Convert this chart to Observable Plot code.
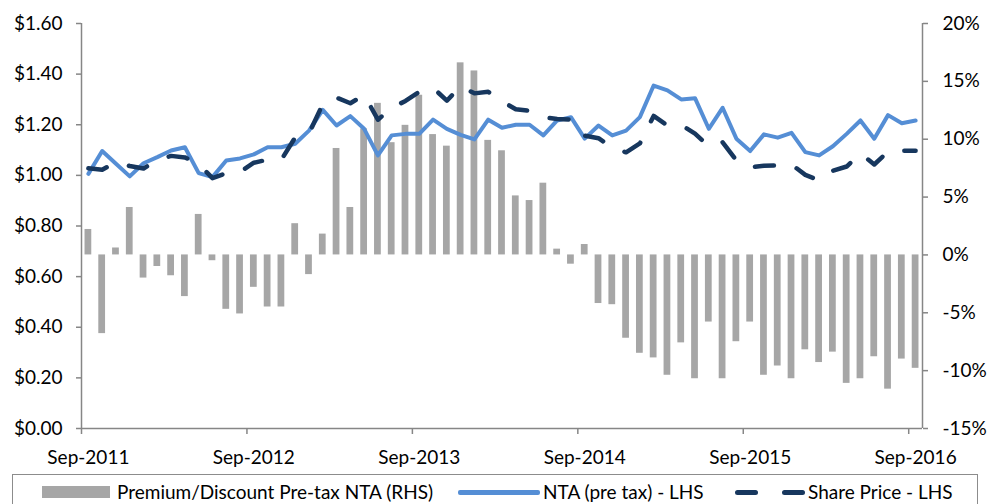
<!DOCTYPE html>
<html>
<head>
<meta charset="utf-8">
<script src="https://cdn.jsdelivr.net/npm/d3@7"></script>
<script src="https://cdn.jsdelivr.net/npm/@observablehq/plot@0.6"></script>
<style>
  body { margin: 0; background: #fff; font-family: Lato, "Open Sans", sans-serif; }
  #wrap { position: relative; width: 987px; height: 504px; overflow: hidden; background: #fff; }
  #chart { position: absolute; left: 0; top: 0; }
  #legend { position: absolute; left: 12px; top: 474px; width: 966px; height: 44px; border: 1.5px solid #8c8c8c; box-sizing: border-box; }
  .lg { position: absolute; font-size: 19px; font-weight: 400; color: #000; line-height: 1; white-space: nowrap; }
  .sw { position: absolute; }
</style>
</head>
<body>
<div id="wrap">
  <div id="chart"></div>
  <div id="legend"></div>
</div>
<script>
// Monthly categories, Sep-2011 .. Sep-2016
const months = [
  "Sep-2011","Oct-2011","Nov-2011","Dec-2011","Jan-2012","Feb-2012","Mar-2012","Apr-2012","May-2012","Jun-2012","Jul-2012","Aug-2012",
  "Sep-2012","Oct-2012","Nov-2012","Dec-2012","Jan-2013","Feb-2013","Mar-2013","Apr-2013","May-2013","Jun-2013","Jul-2013","Aug-2013",
  "Sep-2013","Oct-2013","Nov-2013","Dec-2013","Jan-2014","Feb-2014","Mar-2014","Apr-2014","May-2014","Jun-2014","Jul-2014","Aug-2014",
  "Sep-2014","Oct-2014","Nov-2014","Dec-2014","Jan-2015","Feb-2015","Mar-2015","Apr-2015","May-2015","Jun-2015","Jul-2015","Aug-2015",
  "Sep-2015","Oct-2015","Nov-2015","Dec-2015","Jan-2016","Feb-2016","Mar-2016","Apr-2016","May-2016","Jun-2016","Jul-2016","Aug-2016",
  "Sep-2016"
];

// Premium/Discount to pre-tax NTA, % (RHS)
const premium = [
  2.2, -6.8, 0.6, 4.1, -2.0, -1.0, -1.8, -3.6, 3.5, -0.5, -4.7, -5.1,
  -2.8, -4.5, -4.5, 2.7, -1.7, 1.8, 9.2, 4.1, 10.9, 13.1, 9.7, 11.2,
  13.8, 10.4, 9.4, 16.6, 15.9, 9.9, 9.0, 5.1, 4.7, 6.2, 0.5, -0.8,
  0.9, -4.2, -4.3, -7.2, -8.5, -8.9, -10.4, -7.6, -10.7, -5.8, -10.7, -7.5,
  -5.8, -10.4, -9.6, -10.7, -8.2, -9.3, -8.4, -11.1, -10.7, -8.8, -11.6, -9.0,
  -9.8
];

// NTA (pre tax), $ (LHS)
const nta = [
  1.006, 1.096, 1.046, 0.996, 1.048, 1.072, 1.098, 1.111, 1.009, 0.993, 1.059, 1.067,
  1.083, 1.111, 1.111, 1.125, 1.177, 1.259, 1.197, 1.234, 1.184, 1.079, 1.158, 1.164,
  1.164, 1.220, 1.184, 1.160, 1.142, 1.220, 1.188, 1.200, 1.200, 1.158, 1.217, 1.230,
  1.145, 1.197, 1.158, 1.177, 1.230, 1.355, 1.336, 1.300, 1.305, 1.184, 1.267, 1.145,
  1.096, 1.162, 1.149, 1.168, 1.092, 1.079, 1.115, 1.164, 1.217, 1.145, 1.238, 1.206,
  1.217
];

// Share price, $ (LHS)
const share = [
  1.028, 1.022, 1.052, 1.037, 1.027, 1.061, 1.077, 1.071, 1.045, 0.989, 1.009, 1.013,
  1.050, 1.062, 1.062, 1.150, 1.165, 1.282, 1.307, 1.285, 1.318, 1.220, 1.267, 1.294,
  1.330, 1.346, 1.295, 1.352, 1.324, 1.330, 1.293, 1.261, 1.255, 1.230, 1.223, 1.220,
  1.157, 1.147, 1.110, 1.091, 1.126, 1.235, 1.197, 1.199, 1.165, 1.115, 1.131, 1.059,
  1.032, 1.038, 1.039, 1.043, 1.002, 0.980, 1.018, 1.035, 1.087, 1.043, 1.094, 1.097,
  1.097
];

const xTickLabels = ["Sep-2011","Sep-2012","Sep-2013","Sep-2014","Sep-2015","Sep-2016"];
const leftTicks = [0, 0.2, 0.4, 0.6, 0.8, 1.0, 1.2, 1.4, 1.6];
const rightTicks = [-15, -10, -5, 0, 5, 10, 15, 20];

const legendLabels = ["Premium/Discount Pre-tax NTA (RHS)", "NTA (pre tax) - LHS", "Share Price - LHS"];

const colBar = "#A6A6A6", colNta = "#558ED5", colShare = "#17375E", colAxis = "#868686";

// map right-axis percentages onto the left-axis domain
const lMin = 0, lMax = 1.6, rMin = -15, rMax = 20;
const toLeft = p => lMin + (p - rMin) * (lMax - lMin) / (rMax - rMin);
const fromLeft = v => rMin + (v - lMin) * (rMax - rMin) / (lMax - lMin);

const data = months.map((m, i) => ({i, m, prem: premium[i], nta: nta[i], share: share[i]}));
const labelIdx = xTickLabels.map(l => months.indexOf(l));
const boundaryIdx = labelIdx.map(i => i - 0.5);

const chart = Plot.plot({
  width: 987,
  height: 470,
  marginTop: 23,
  marginBottom: 42,
  marginLeft: 81,
  marginRight: 65,
  x: {type: "linear", domain: [-0.5, months.length - 0.5], label: null},
  y: {domain: [lMin, lMax], label: null},
  style: {fontFamily: "Lato, 'Open Sans', sans-serif", fontSize: "19px", color: "#000", background: "#fff"},
  marks: [
    Plot.rectY(data, {x1: d => d.i - 0.245, x2: d => d.i + 0.245, y1: toLeft(0), y2: d => toLeft(d.prem), fill: colBar}),
    Plot.line(data, {x: "i", y: "nta", stroke: colNta, strokeWidth: 4, strokeLinejoin: "round", strokeLinecap: "round"}),
    Plot.line(data, {x: "i", y: "share", stroke: colShare, strokeWidth: 4.5, strokeDasharray: "19,24", strokeLinecap: "round", strokeLinejoin: "round"}),
    Plot.ruleX([-0.5], {stroke: colAxis, strokeWidth: 1.5}),
    Plot.ruleX([months.length - 0.5], {stroke: colAxis, strokeWidth: 1.5}),
    Plot.ruleY([lMin], {stroke: colAxis, strokeWidth: 1.5}),
    Plot.axisY({anchor: "left", label: null, ticks: leftTicks, tickFormat: d => "$" + d.toFixed(2), tickSize: 5, tickPadding: 14, stroke: colAxis, strokeWidth: 1.5, fill: "#000"}),
    Plot.axisY({anchor: "right", label: null, ticks: rightTicks.map(toLeft), tickFormat: d => Math.round(fromLeft(d)) + "%", tickSize: 5, tickPadding: 15, stroke: colAxis, strokeWidth: 1.5, fill: "#000"}),
    Plot.axisX({label: null, ticks: boundaryIdx, tickFormat: () => "", tickSize: 6, stroke: colAxis, strokeWidth: 1.5}),
    Plot.axisX({label: null, ticks: labelIdx, tickFormat: i => months[i], tickSize: 0, tickPadding: 22, fill: "#000"})
  ]
});
document.getElementById("chart").appendChild(chart);

// Legend
const wrap = document.getElementById("wrap");
function add(el){ wrap.appendChild(el); return el; }
function div(cls, style, text){ const d = document.createElement("div"); d.className = cls; Object.assign(d.style, style); if (text) d.textContent = text; return add(d); }
const cy = 492;
div("sw", {left: "42px", top: (cy - 6) + "px", width: "68px", height: "12px", background: colBar});
div("lg", {left: "117px", top: (cy - 10) + "px"}, legendLabels[0]);
div("sw", {left: "458px", top: (cy - 2) + "px", width: "82px", height: "4.5px", background: colNta, borderRadius: "2px"});
div("lg", {left: "543px", top: (cy - 10) + "px"}, legendLabels[1]);
div("sw", {left: "735px", top: (cy - 2.5) + "px", width: "23px", height: "5px", background: colShare, borderRadius: "3px"});
div("sw", {left: "782px", top: (cy - 2.5) + "px", width: "23px", height: "5px", background: colShare, borderRadius: "3px"});
div("lg", {left: "808px", top: (cy - 10) + "px"}, legendLabels[2]);
</script>
</body>
</html>
